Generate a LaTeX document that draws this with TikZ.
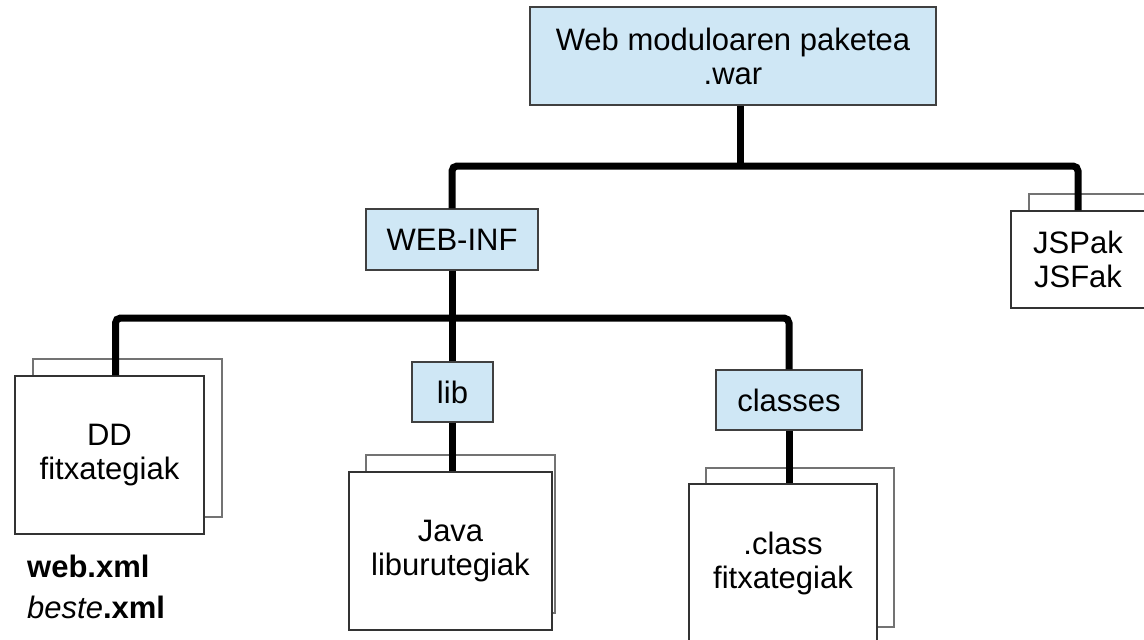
\documentclass[tikz,border=0pt]{standalone}
\usepackage{fontspec}
\setmainfont{Liberation Sans}

\definecolor{folderblue}{RGB}{207,231,245}

\def\busTop{166}
\def\busMid{318}

\begin{document}
\begin{tikzpicture}[x=1pt, y=-1pt,
    folder/.style={draw=black!75, fill=folderblue, line width=1.2pt, inner sep=0pt,
                   align=center, font=\fontsize{31}{34}\selectfont},
    sheet/.style={draw=black!80, fill=white, line width=1.2pt, inner sep=0pt,
                  align=center, font=\fontsize{31}{34}\selectfont},
    backsheet/.style={draw=black!55, fill=white, line width=1.2pt, inner sep=0pt},
    xmlname/.style={anchor=base west, inner sep=0pt, font=\fontsize{31}{34}\selectfont},
    wire/.style={line width=7pt, rounded corners=5pt}]
        \useasboundingbox (0,0) rectangle (1144,640);
        \coordinate (busA) at (0,\busTop);
        \coordinate (busB) at (0,\busMid);

        % folders
        \node[folder, minimum width=406pt, minimum height=98pt] (war) at (733,56) {Web moduloaren paketea\\.war};
        \node[folder, minimum width=172pt, minimum height=61pt] (webinf) at (452,239.5) {WEB-INF};
        \node[folder, minimum width=81pt, minimum height=60pt] (lib) at (452.5,392) {lib};
        \node[folder, minimum width=146pt, minimum height=60pt] (classes) at (789,400) {classes};

        % files (back sheet first)
        \node[backsheet, minimum width=189pt, minimum height=158pt] (ddback) at (127.5,438) {};
        \node[sheet, minimum width=189pt, minimum height=158pt] (dd) at (109.5,455) {DD\\fitxategiak};
        \node[backsheet, minimum width=189pt, minimum height=158pt] (jarback) at (460.5,534) {};
        \node[sheet, minimum width=203pt, minimum height=158pt] (jar) at (450.5,551) {Java\\liburutegiak};
        \node[backsheet, minimum width=188pt, minimum height=159pt] (clsback) at (800,547.5) {};
        \node[sheet, minimum width=188pt, minimum height=158pt] (cls) at (783,563) {.class\\fitxategiak};
        \node[backsheet, minimum width=134pt, minimum height=97pt] (jspback) at (1096,242.5) {};
        \node[sheet, minimum width=134pt, minimum height=97pt] (jsp) at (1078,259.5) {JSPak\\JSFak};

        \node[xmlname] (webxml) at (27,577) {\textbf{web.xml}};
        \node[xmlname] (bestexml) at (27,618) {\textit{beste}\textbf{.xml}};

        % tree
        \draw[wire] (webinf.north) |- (jsp.north |- busA) -- (jsp.north);
        \draw[wire] ([xshift=7pt]war.south) -- ([xshift=7pt]war.south |- busA);
        \draw[wire] ([xshift=6pt]dd.north) |- (classes.north |- busB) -- (classes.north);
        \draw[wire] (webinf.south) -- (webinf.south |- lib.north);
        \draw[wire] (lib.south) -- (lib.south |- jar.north);
        \draw[wire] (classes.south) -- (classes.south |- cls.north);
\end{tikzpicture}
\end{document}
